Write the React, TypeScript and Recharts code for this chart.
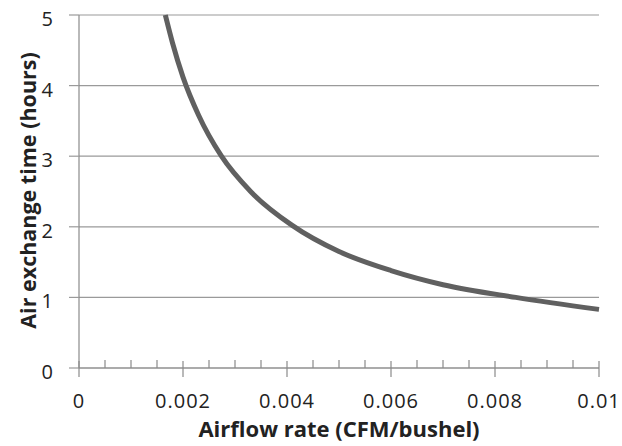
import { LineChart, Line, XAxis, YAxis, CartesianGrid } from "recharts";

// airflow rate (CFM/bushel) vs air exchange time (hours)
const airflowRates = [0.00166, 0.0018, 0.002, 0.0023, 0.00274, 0.0033, 0.0041, 0.005, 0.006, 0.007, 0.0084, 0.01];
const exchangeHours = [5.0, 4.6, 4.12, 3.58, 3.0, 2.5, 2.02, 1.65, 1.38, 1.18, 1.0, 0.83];

const xTicks = [0, 0.0005, 0.001, 0.0015, 0.002, 0.0025, 0.003, 0.0035, 0.004, 0.0045, 0.005, 0.0055, 0.006, 0.0065, 0.007, 0.0075, 0.008, 0.0085, 0.009, 0.0095, 0.01];
const xMajorTicks = [0, 0.002, 0.004, 0.006, 0.008, 0.01];
const xTickLabels = ["0", "0.002", "0.004", "0.006", "0.008", "0.01"];
const yTicks = [0, 1, 2, 3, 4, 5];

const data = airflowRates.map((rate, i) => ({ rate, hours: exchangeHours[i] }));

const FONT = "'Open Sans', sans-serif";
const TEXT = "#222";
const AXIS = "#8a8a8a";
const GRID = "#9a9a9a";

function XTick({ x, y, payload }: any) {
  const idx = xMajorTicks.indexOf(payload.value);
  if (idx < 0) {
    return <line x1={x} x2={x} y1={y - 8} y2={y} stroke={AXIS} strokeWidth={1.2} />;
  }
  return (
    <g>
      <line x1={x} x2={x} y1={y - 7} y2={y + 9} stroke={AXIS} strokeWidth={1.2} />
      <text x={x} y={y + 40} textAnchor="middle" fontFamily={FONT} fontSize={20} letterSpacing={1} fill={TEXT}>
        {xTickLabels[idx]}
      </text>
    </g>
  );
}

function YTick({ x, y, payload }: any) {
  return (
    <text x={x} y={y + 11} textAnchor="end" fontFamily={FONT} fontSize={20} fill={TEXT}>
      {payload.value}
    </text>
  );
}

function XTitle({ viewBox }: any) {
  const vb = viewBox || { x: 79, y: 368, width: 520, height: 78 };
  return (
    <text x={vb.x + vb.width / 2} y={vb.y + 69} textAnchor="middle" fontFamily={FONT} fontSize={22} fontWeight="bold" fill={TEXT}>
      Airflow rate (CFM/bushel)
    </text>
  );
}

function YTitle({ viewBox }: any) {
  const vb = viewBox || { x: 0, y: 15, width: 79, height: 353 };
  const cx = vb.x + 36;
  const cy = vb.y + vb.height / 2 - 1;
  return (
    <text x={cx} y={cy} transform={`rotate(-90 ${cx} ${cy})`} textAnchor="middle" fontFamily={FONT} fontSize={21.5} fontWeight="bold" fill={TEXT}>
      Air exchange time (hours)
    </text>
  );
}

export default function App() {
  return (
    <div style={{ position: "absolute", left: 0, top: 0, width: 622, height: 446, background: "#fff" }}>
      <LineChart width={622} height={446} data={data} margin={{ top: 15, right: 23, bottom: 0, left: 0 }}>
        <CartesianGrid vertical={false} stroke={GRID} strokeWidth={1.2} />
        <XAxis
          dataKey="rate"
          type="number"
          domain={[0, 0.01]}
          ticks={xTicks}
          interval={0}
          height={78}
          tickLine={false}
          tickSize={0}
          tickMargin={0}
          axisLine={{ stroke: AXIS, strokeWidth: 1.2 }}
          tick={<XTick />}
          label={XTitle}
        />
        <YAxis
          type="number"
          domain={[0, 5]}
          ticks={yTicks}
          interval={0}
          width={79}
          tickSize={10}
          tickMargin={16}
          tickLine={{ stroke: GRID, strokeWidth: 1.2 }}
          axisLine={{ stroke: AXIS, strokeWidth: 1.2 }}
          tick={<YTick />}
          label={YTitle}
        />
        <Line
          type="monotone"
          dataKey="hours"
          stroke="#606060"
          strokeWidth={5}
          dot={false}
          isAnimationActive={false}
        />
      </LineChart>
    </div>
  );
}
